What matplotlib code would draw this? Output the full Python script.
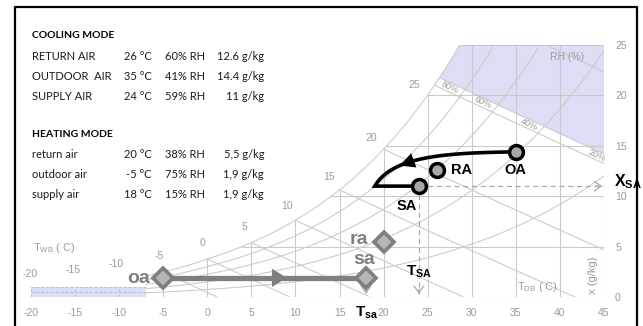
import numpy as np
import matplotlib
matplotlib.use("Agg")
import matplotlib.pyplot as plt
from matplotlib.patches import Polygon, Rectangle
from matplotlib.lines import Line2D

# ---------------- data ----------------
cool_names = ["RETURN AIR", "OUTDOOR  AIR", "SUPPLY AIR"]
cool_temp = [26, 35, 24]          # deg C
cool_rh = [60, 41, 59]            # %
cool_x = [12.6, 14.4, 11]         # g/kg
cool_tags = ["RA", "OA", "SA"]

heat_names = ["return air", "outdoor air", "supply air"]
heat_temp = [20, -5, 18]
heat_rh = [38, 75, 15]
heat_x = [5.5, 1.9, 1.9]
heat_tags = ["ra", "oa", "sa"]

coil_exit_temp = 19               # dry bulb leaving the cooling coil

t_ticks = list(range(-20, 50, 5))
x_ticks = list(range(0, 30, 5))
wb_labels = list(range(-20, 30, 5))
wb_lines = list(range(-5, 25, 5))
rh_curves = [20, 40, 60, 80]

# ---------------- style ----------------
W, H, DPI = 643, 326, 100
GRID = "#c9c9c9"
TXT = "#9a9a9a"
BLUE = "#dcdef5"
HEAT = "#7f7f7f"
HEAT_FILL = "#b5b5b5"
P_ATM = 101.325
T_START = -7.0
X_TOP = 25.0
T_END = 45.0

plt.rcParams["font.family"] = ["Liberation Sans", "DejaVu Sans"]
plt.rcParams["mathtext.fontset"] = "custom"
plt.rcParams["mathtext.rm"] = "Liberation Sans"
plt.rcParams["mathtext.bf"] = "Liberation Sans:bold"


# ---------------- psychrometrics ----------------
def p_sat(t):
    t = np.asarray(t, dtype=float)
    water = 0.61094 * np.exp(17.625 * t / (t + 243.04))
    ice = 0.61115 * np.exp(22.452 * t / (272.55 + t))
    return np.where(t >= 0, water, ice)


def x_rh(t, rh):
    pw = p_sat(t) * rh / 100.0
    return 622.0 * pw / (P_ATM - pw)


def h_tx(t, x):
    return 1.006 * t + x / 1000.0 * (2501 + 1.86 * t)


def x_h(h, t):
    return 1000.0 * (h - 1.006 * t) / (2501 + 1.86 * t)


t_fine = np.linspace(-25, 50, 3000)
x_sat_fine = x_rh(t_fine, 100)
h_sat_fine = h_tx(t_fine, x_sat_fine)


def t_at_sat_x(x):
    return float(np.interp(x, x_sat_fine, t_fine))


def t_at_sat_h(h):
    return float(np.interp(h, h_sat_fine, t_fine))


# ---------------- figure ----------------
fig = plt.figure(figsize=(W / DPI, H / DPI), dpi=DPI)
ax = fig.add_axes([31 / W, 1 - 297 / H, (604 - 31) / W, (297 - 45) / H])
ax.set_xlim(-20, 45)
ax.set_ylim(0, 25)
ax.patch.set_visible(False)
for s in ax.spines.values():
    s.set_visible(False)
ax.set_xticks(t_ticks)
ax.set_xticklabels([str(v) for v in t_ticks])
ax.yaxis.tick_right()
ax.set_yticks(x_ticks)
ax.set_yticklabels([str(v) for v in x_ticks])
ax.tick_params(axis="x", length=0, pad=8, labelcolor=TXT, labelsize=7.5)
ax.tick_params(axis="y", length=0, pad=8, labelcolor=TXT, labelsize=7.5)

gkw = dict(color=GRID, lw=0.75, zorder=2)

# upper region beyond the chart range
H_BLUE = 82.0
H_BAND = 79.5
t_b0 = t_at_sat_h(H_BLUE)
t_b1 = t_at_sat_x(X_TOP)
ts = np.linspace(t_b0, t_b1, 60)
tl = np.linspace(t_b0, T_END, 60)
poly = np.vstack([
    np.column_stack([ts, x_rh(ts, 100)]),
    [[T_END, X_TOP], [T_END, x_h(H_BLUE, T_END)]],
    np.column_stack([tl[::-1], x_h(H_BLUE, tl[::-1])]),
])
ax.add_patch(Polygon(poly, closed=True, facecolor=BLUE, edgecolor="none", zorder=1))
ax.plot(tl, x_h(H_BLUE, tl), **gkw)
tb = np.linspace(t_at_sat_h(H_BAND), T_END, 60)
ax.plot(tb, x_h(H_BAND, tb), **gkw)
t_hi = np.linspace(-20, 45, 400)
x_hi = x_h(103.0, t_hi)
m = (x_hi <= X_TOP)
ax.plot(t_hi[m], x_hi[m], **gkw)

# frost band on the left
band_top = 0.95
ax.add_patch(Rectangle((-20, 0), T_START + 20, band_top, facecolor=BLUE,
                       edgecolor="none", zorder=1))
dkw = dict(color="#b9bbd8", lw=0.7, ls=(0, (3, 2)), zorder=2)
ax.plot([-20, T_START], [band_top, band_top], **dkw)
ax.plot([-20, T_START], [band_top / 2, band_top / 2], **dkw)
for tv in (-20, -15, -10):
    ax.plot([tv, tv], [0, band_top], **dkw)

# saturation curve
t_sat = np.linspace(T_START, T_END, 400)
x_sat = x_rh(t_sat, 100)
m = x_sat <= X_TOP
ax.plot(t_sat[m], x_sat[m], **gkw)

# relative humidity curves
for rh in rh_curves:
    xv = x_rh(t_sat, rh)
    m = xv <= X_TOP
    ax.plot(t_sat[m], xv[m], **gkw)

# dry bulb verticals
for tv in range(-5, 46, 5):
    top = min(float(x_rh(tv, 100)), X_TOP)
    ax.plot([tv, tv], [0, top], **gkw)

# humidity ratio horizontals
for xv in x_ticks[1:]:
    ax.plot([t_at_sat_x(xv), T_END], [xv, xv], **gkw)
ax.plot([T_START, T_END], [0, 0], **gkw)

# wet bulb lines
for twb in wb_lines:
    h = h_tx(twb, x_rh(twb, 100))
    tt = np.linspace(twb, T_END, 200)
    xx = x_h(h, tt)
    m = xx >= 0
    ax.plot(tt[m], xx[m], **gkw)

# wet bulb labels along the saturation curve
sx = (604 - 31) / 65.0               # px per deg C
sy = (297 - 45) / 25.0               # px per g/kg
for twb in wb_labels:
    xs = float(x_rh(twb, 100))
    slope = float((x_rh(twb + 0.1, 100) - x_rh(twb - 0.1, 100)) / 0.2) * sy / sx
    nx, ny = -slope, 1.0
    n = np.hypot(nx, ny)
    ax.annotate(str(twb), xy=(twb, xs), xytext=(17 * nx / n, 17 * ny / n),
                textcoords="offset pixels", ha="center", va="center",
                color=TXT, fontsize=7.5, annotation_clip=False, zorder=3)

# RH labels along the band
h_mid = 0.5 * (H_BLUE + H_BAND)
ang = np.degrees(np.arctan((x_h(h_mid, 40) - x_h(h_mid, 30)) / 10 * sy / sx))
for rh in rh_curves:
    tt = np.linspace(0, 60, 4000)
    diff = h_tx(tt, x_rh(tt, rh)) - h_mid
    idx = np.argmax(diff > 0) if np.any(diff > 0) else len(tt) - 1
    tl_ = min(float(tt[idx]) - 1.4, 44.2)
    ax.text(tl_, x_h(h_mid, tl_), f"{rh}%", rotation=ang, rotation_mode="anchor",
            ha="center", va="center", color=TXT, fontsize=6.5, zorder=3)

ax.text(40.8, 23.8, "RH (%)", color=TXT, fontsize=7.5, ha="center", va="center", zorder=3)

# axis captions
fig.text(33 / W, 1 - 248 / H, r"T$_{\mathregular{WB}}$ ( C)", color=TXT, fontsize=8,
         ha="left", va="center")
fig.text(517 / W, 1 - 287 / H, r"T$_{\mathregular{DB}}$ ( C)", color=TXT, fontsize=8,
         ha="left", va="center")
fig.text(593 / W, 1 - 275 / H, "x (g/kg)", color=TXT, fontsize=8, rotation=90,
         ha="center", va="center")

# ---------------- heating process ----------------
i_ra, i_oa, i_sa = 0, 1, 2
ax.plot([heat_temp[i_oa], heat_temp[i_sa]], [heat_x[i_oa], heat_x[i_sa]],
        color=HEAT, lw=3.8, solid_capstyle="butt", zorder=5)
t_arrow = heat_temp[i_oa] + 0.61 * (heat_temp[i_sa] - heat_temp[i_oa])
ax.annotate("", xy=(t_arrow, heat_x[i_oa]), xytext=(t_arrow - 1, heat_x[i_oa]),
            arrowprops=dict(arrowstyle="-|>,head_length=0.9,head_width=0.55",
                            color=HEAT, lw=0, shrinkA=0, shrinkB=0,
                            mutation_scale=12), zorder=5)
ax.plot(heat_temp, heat_x, "D", ms=10.5, mfc=HEAT_FILL, mec=HEAT, mew=2.6,
        zorder=7, clip_on=False)
heat_off = {"ra": (-25, 2), "oa": (-25, -1), "sa": (-2, 18)}
for tag, tv, xv in zip(heat_tags, heat_temp, heat_x):
    ax.annotate(tag, xy=(tv, xv), xytext=heat_off[tag], textcoords="offset pixels",
                ha="center", va="center", color=HEAT, fontsize=14,
                fontweight="bold", zorder=8)

# ---------------- cooling process ----------------
c_ra, c_oa, c_sa = 0, 1, 2
T0, X0 = cool_temp[c_oa], cool_x[c_oa]
T3, X3 = coil_exit_temp, cool_x[c_sa]
P = np.array([[T0, X0],
              [T0 + 0.5 * (T3 - T0), X0 - 0.03 * (X0 - X3)],
              [T3 + 0.125 * (T0 - T3), X0 - 0.12 * (X0 - X3)],
              [T3, X3]])


def bez(tt):
    tt = np.asarray(tt)[:, None]
    return ((1 - tt) ** 3 * P[0] + 3 * (1 - tt) ** 2 * tt * P[1]
            + 3 * (1 - tt) * tt ** 2 * P[2] + tt ** 3 * P[3])


curve = bez(np.linspace(0, 1, 120))
path = np.vstack([curve, [[cool_temp[c_sa], cool_x[c_sa]]]])
ax.plot(path[:, 0], path[:, 1], color="k", lw=2.6, solid_joinstyle="miter",
        solid_capstyle="butt", zorder=5)
a0, a1 = bez([0.62, 0.70])
ax.annotate("", xy=a1, xytext=a0,
            arrowprops=dict(arrowstyle="-|>,head_length=0.9,head_width=0.45",
                            color="k", lw=0, shrinkA=0, shrinkB=0,
                            mutation_scale=12), zorder=6)

# guide lines from the supply air state
dash = dict(color="#a8a8a8", lw=0.9, ls=(0, (4, 3)), zorder=4)
chev = dict(arrowstyle="->,head_length=0.5,head_width=0.35", color="#a8a8a8",
            lw=0.9, shrinkA=0, shrinkB=0, mutation_scale=10)
ax.plot([cool_temp[c_sa], cool_temp[c_sa]], [cool_x[c_sa], 0.3], **dash)
ax.annotate("", xy=(cool_temp[c_sa], 0.3), xytext=(cool_temp[c_sa], 0.8), arrowprops=chev)
ax.plot([cool_temp[c_sa], T_END], [cool_x[c_sa], cool_x[c_sa]], **dash)
ax.annotate("", xy=(T_END - 0.2, cool_x[c_sa]), xytext=(T_END - 1.0, cool_x[c_sa]),
            arrowprops=chev)
ax.plot([heat_temp[i_sa], heat_temp[i_sa]], [heat_x[i_sa], 0.3], **dash)
ax.annotate("", xy=(heat_temp[i_sa], 0.3), xytext=(heat_temp[i_sa], 0.8), arrowprops=chev)

ax.plot(cool_temp, cool_x, "o", ms=10, mfc="#a8a8a8", mec="k", mew=2.5, zorder=7)
cool_off = {"RA": (14, 0, "left"), "OA": (0, -18, "center"), "SA": (-12, -20, "center")}
for tag, tv, xv in zip(cool_tags, cool_temp, cool_x):
    dx, dy, ha = cool_off[tag]
    ax.annotate(tag, xy=(tv, xv), xytext=(dx, dy), textcoords="offset pixels",
                ha=ha, va="center", color="k", fontsize=10.5, fontweight="bold",
                zorder=8)

# state symbols on the axes
ax.annotate(r"$\mathbf{T_{SA}}$", xy=(cool_temp[c_sa], 0), xytext=(0, 25),
            textcoords="offset pixels", ha="center", va="center", fontsize=11,
            annotation_clip=False, zorder=8)
ax.annotate(r"$\mathbf{X_{SA}}$", xy=(T_END, cool_x[c_sa]), xytext=(10, 4),
            textcoords="offset pixels", ha="left", va="center", fontsize=11.5,
            annotation_clip=False, zorder=8)
ax.annotate(r"$\mathbf{T_{sa}}$", xy=(heat_temp[i_sa], 0), xytext=(1, -16),
            textcoords="offset pixels", ha="center", va="center", fontsize=11,
            annotation_clip=False, zorder=8)

# ---------------- summary table ----------------
TF = ["Lato", "DejaVu Sans"]


def ftxt(px, py, s, **kw):
    kw.setdefault("color", "#1a1a1a")
    fig.text(px / W, 1 - py / H, s, va="center", family=TF, **kw)


def table(title, y0, names, temps, rhs, xs, dec):
    ftxt(32, y0, title, fontsize=7.5, fontweight="bold", color="k")
    for k, (nm, tv, rv, xv) in enumerate(zip(names, temps, rhs, xs)):
        y = y0 + 20.5 + 19.8 * k
        ftxt(32, y, nm, fontsize=8, ha="left")
        ftxt(152, y, f"{tv} °C", fontsize=8, ha="right")
        ftxt(205, y, f"{rv}% RH", fontsize=8, ha="right")
        ftxt(264, y, f"{xv:g}".replace(".", dec) + " g/kg", fontsize=8, ha="right")


table("COOLING MODE", 36, cool_names, cool_temp, cool_rh, cool_x, ".")
table("HEATING MODE", 134, heat_names, heat_temp, heat_rh, heat_x, ",")

# outer frame
fig.add_artist(Line2D([15 / W, 15 / W, 637 / W, 637 / W], [0, 1 - 7 / H, 1 - 7 / H, 0],
                      transform=fig.transFigure, color="k", lw=1.6))

fig.savefig("out.png", dpi=DPI)
